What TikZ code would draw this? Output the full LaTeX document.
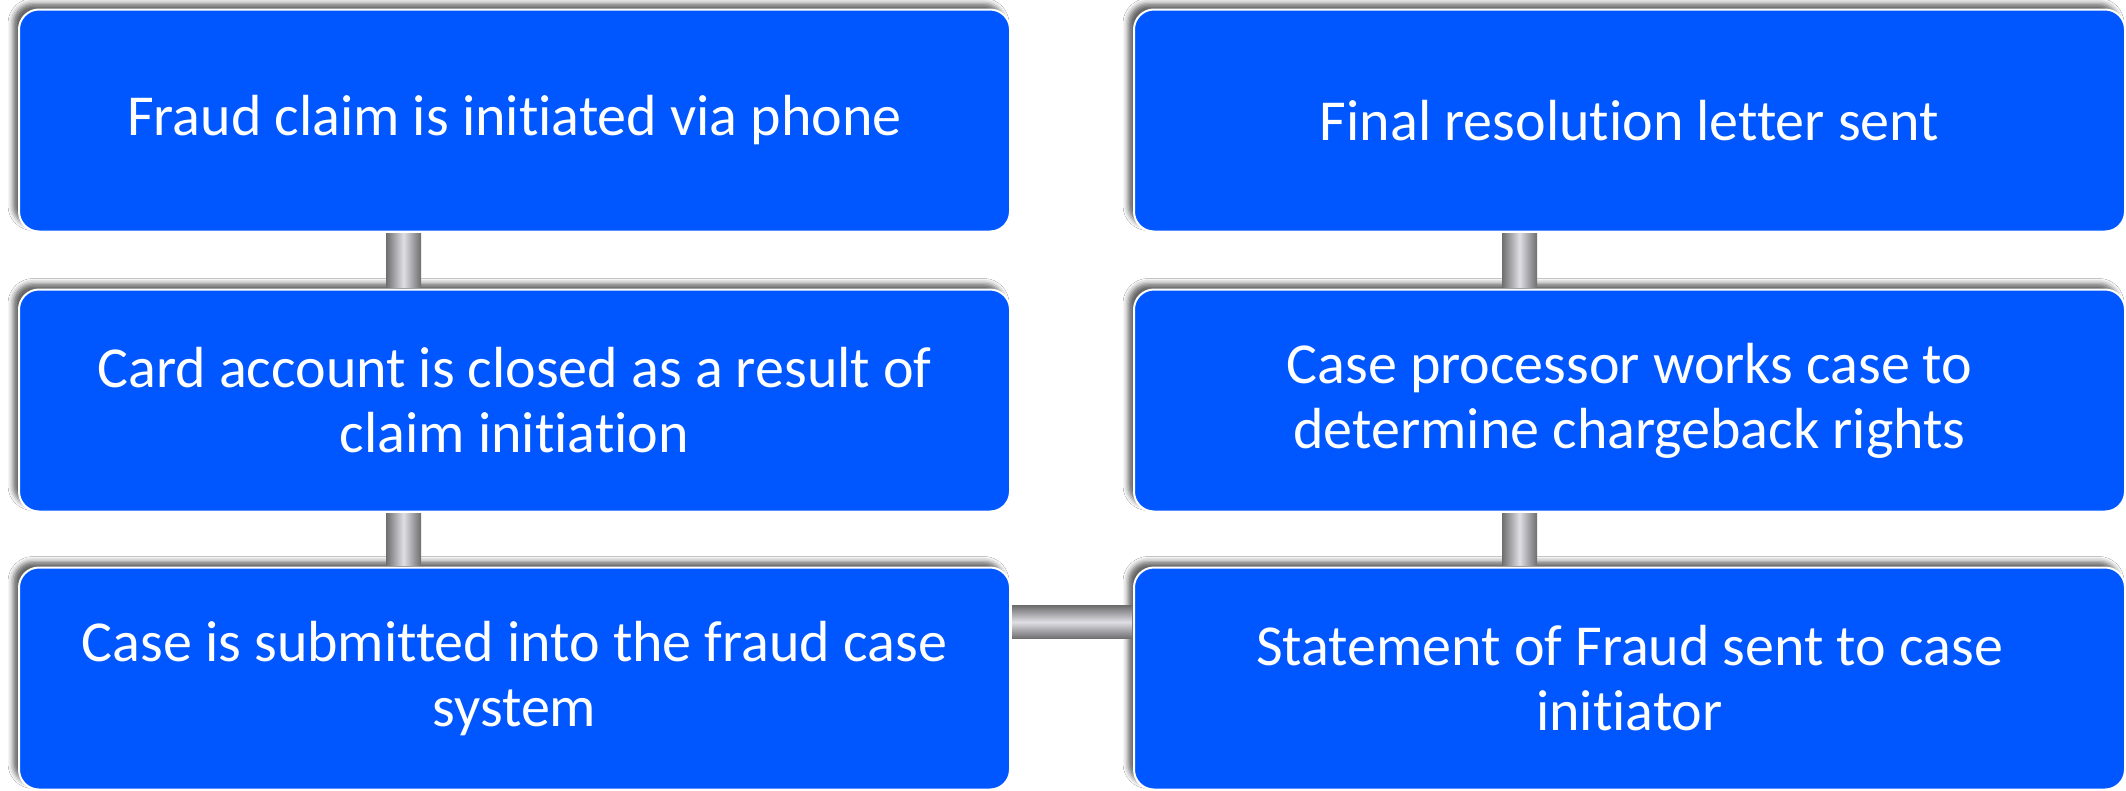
\documentclass[tikz,border=0pt]{standalone}
\usepackage{fontspec}
\setmainfont{Carlito}[Ligatures={NoCommon}]
\usetikzlibrary{calc,shadows.blur}
\definecolor{boxblue}{RGB}{0,87,255}
\definecolor{pipelight}{RGB}{222,222,228}
\definecolor{pipedark}{RGB}{110,110,112}
\tikzset{
  stepbox/.style={draw=white, line width=2pt, fill=boxblue, rounded corners=20pt,
    minimum width=991pt, minimum height=222pt, inner sep=0pt, text=white,
    align=center, font=\fontsize{58}{65}\selectfont,
    blur shadow={shadow xshift=-6pt, shadow yshift=6pt, shadow blur radius=5pt, shadow opacity=60}},
  vpipe/.style={left color=pipedark, right color=pipedark, middle color=pipelight},
  hpipe/.style={top color=pipedark, bottom color=pipedark, middle color=pipelight},
}
\begin{document}
\begin{tikzpicture}[x=1pt,y=-1pt]
\useasboundingbox (0,0) rectangle (2126,790);
\fill[white] (0,0) rectangle (2126,790);
\coordinate (l1) at (514.5,120.5);
\coordinate (l2) at (514.5,400.5);
\coordinate (l3) at (514.5,678.5);
\coordinate (r1) at (1629.5,120.5);
\coordinate (r2) at (1629.5,400.5);
\coordinate (r3) at (1629.5,678.5);
\node[stepbox] (a) at (l1) {Fraud claim is initiated via phone};
\node[stepbox] (b) at (l2) {Card account is closed as a result of\\claim initiation};
\node[stepbox] (c) at (l3) {Case is submitted into the fraud case\\system};
\node[stepbox] (d) at (r3) {Statement of Fraud sent to case\\initiator};
\node[stepbox] (e) at (r2) {Case processor works case to\\determine chargeback rights};
\node[stepbox] (f) at (r1) {Final resolution letter sent};
\shade[vpipe] ($(a.south west)+(368,1)$) rectangle ($(b.north west)+(403,-1)$);
\shade[vpipe] ($(b.south west)+(368,1)$) rectangle ($(c.north west)+(403,-1)$);
\shade[hpipe] ($(c.north east)+(1,39)$) rectangle ($(d.north west)+(-1,72)$);
\shade[vpipe] ($(d.north west)+(369,-1)$) rectangle ($(e.south west)+(404,1)$);
\shade[vpipe] ($(e.north west)+(369,-1)$) rectangle ($(f.south west)+(404,1)$);
\end{tikzpicture}
\end{document}
